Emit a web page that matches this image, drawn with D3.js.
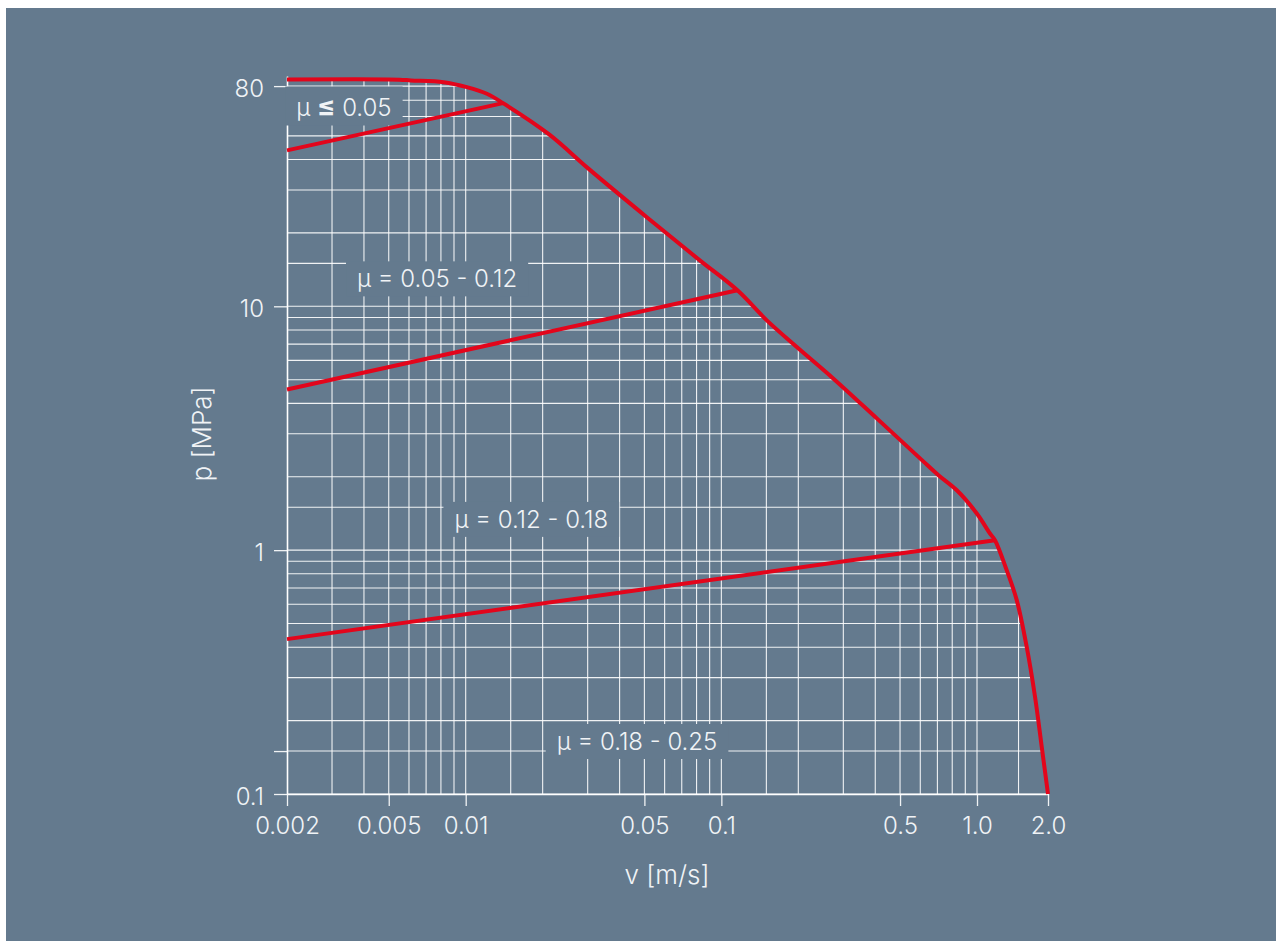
<!DOCTYPE html>
<html>
<head>
<meta charset="utf-8">
<script src="https://cdn.jsdelivr.net/npm/d3@7"></script>
<style>
  body { margin: 0; background: #fff; }
  svg { display: block; font-family: Inter, "Open Sans", sans-serif; }
</style>
</head>
<body>
<svg id="chart" width="1282" height="941"></svg>
<script>
// p-v limit curve, v in m/s, p in MPa
const limitV = [0.002, 0.0055, 0.0061, 0.0082, 0.0101, 0.0121, 0.0140, 0.0212, 0.0302, 0.0511, 0.0826,
    0.1156, 0.1506, 0.1973, 0.2745, 0.4056, 0.609, 0.7066, 0.834, 1.0, 1.135, 1.192, 1.336, 1.474,
    1.624, 1.762, 1.881, 2.0];
const limitP = [85.1, 85.0, 84.4, 83.0, 79.2, 74.4, 68.1, 50.7, 36.7, 23.2, 15.4,
    11.63, 8.76, 6.81, 5.05, 3.47, 2.34, 2.03, 1.76, 1.41, 1.17, 1.099, 0.828, 0.624,
    0.402, 0.2506, 0.1563, 0.1];

// boundaries between friction ranges
const lowFrictionV = [0.002, 0.0140];
const lowFrictionP = [43.6, 68.1];
const midFrictionV = [0.002, 0.1156];
const midFrictionP = [4.56, 11.63];
const highFrictionV = [0.002, 1.192];
const highFrictionP = [0.4317, 1.099];

// range labels, anchored at text centre / baseline in data units
const labelLeads = ["μ ", "μ = ", "μ = ", "μ = "];
const labelSigns = ["≤", "", "", ""];
const labelRanges = [" 0.05", "0.05 - 0.12", "0.12 - 0.18", "0.18 - 0.25"];
const labelV = [0.00334, 0.00773, 0.01806, 0.0468];
const labelP = [60.6, 11.96, 1.234, 0.1515];

const xTicks = [0.002, 0.005, 0.01, 0.05, 0.1, 0.5, 1, 2];
const xTickLabels = ["0.002", "0.005", "0.01", "0.05", "0.1", "0.5", "1.0", "2.0"];
const yTicks = [0.1, 0.15, 1, 10, 80];
const yTickLabels = ["0.1", "", "1", "10", "80"];

const gridV = [0.002, 0.003, 0.004, 0.005, 0.006, 0.007, 0.008, 0.009,
    0.01, 0.015, 0.02, 0.03, 0.04, 0.05, 0.06, 0.07, 0.08, 0.09,
    0.1, 0.15, 0.2, 0.3, 0.4, 0.5, 0.6, 0.7, 0.8, 0.9, 1.0, 1.5, 2.0];
const gridP = [0.1, 0.15, 0.2, 0.3, 0.4, 0.5, 0.6, 0.7, 0.8, 0.9,
    1, 1.5, 2, 3, 4, 5, 6, 7, 8, 9,
    10, 15, 20, 30, 40, 50, 60, 70, 80];

const bg = "#647a8e";
const red = "#e3051b";
const textColor = "#f0f3f6";
const gridColor = "rgba(255,255,255,0.9)";

const svg = d3.select("#chart");
const width = +svg.attr("width");
const height = +svg.attr("height");
const margin = { top: 76, right: 234, bottom: 147, left: 287 };
const innerWidth = width - margin.left - margin.right;
const innerHeight = height - margin.top - margin.bottom;

svg.append("rect")
    .attr("x", 6)
    .attr("y", 8)
    .attr("width", width - 12)
    .attr("height", height - 8)
    .attr("fill", bg);

// the source squeezes the last octave (1 -> 2) a little, hence the extra stop
const xScale = d3.scaleLog()
    .domain([0.002, 1, 2])
    .range([0, 690, innerWidth]);

const yScale = d3.scaleLog()
    .domain([0.1, 88])
    .range([innerHeight, 0]);

const g = svg.append("g")
    .attr("transform", `translate(${margin.left},${margin.top})`);

const boundary = d3.zip(limitV, limitP);
const smooth = d3.curveCatmullRom.alpha(0.5);

// grid only shows below the limit curve
const underCurve = d3.area()
    .x(d => xScale(d[0]))
    .y0(innerHeight)
    .y1(d => yScale(d[1]))
    .curve(smooth);

g.append("clipPath")
    .attr("id", "under-limit")
    .append("path")
    .attr("d", underCurve(boundary));

const grid = g.append("g")
    .attr("clip-path", "url(#under-limit)")
    .attr("stroke", gridColor)
    .attr("stroke-width", 1.1);

grid.selectAll(".vgrid")
    .data(gridV)
    .join("line")
    .attr("class", "vgrid")
    .attr("x1", d => xScale(d))
    .attr("x2", d => xScale(d))
    .attr("y1", 0)
    .attr("y2", innerHeight);

grid.selectAll(".hgrid")
    .data(gridP)
    .join("line")
    .attr("class", "hgrid")
    .attr("x1", 0)
    .attr("x2", innerWidth)
    .attr("y1", d => yScale(d))
    .attr("y2", d => yScale(d));

// axes
const xAxis = d3.axisBottom(xScale)
    .tickValues(xTicks)
    .tickFormat((d, i) => xTickLabels[i])
    .tickSize(12)
    .tickSizeOuter(0)
    .tickPadding(11);

const yAxis = d3.axisLeft(yScale)
    .tickValues(yTicks)
    .tickFormat((d, i) => yTickLabels[i])
    .tickSize(13)
    .tickSizeOuter(0)
    .tickPadding(10);

const gx = g.append("g")
    .attr("transform", `translate(0,${innerHeight})`)
    .call(xAxis);

const gy = g.append("g")
    .call(yAxis);

[gx, gy].forEach(ax => {
    ax.attr("font-family", null).attr("font-size", null);
    ax.select(".domain").attr("stroke", "#fff").attr("stroke-width", 1.6);
    ax.selectAll(".tick line").attr("stroke", gridColor).attr("stroke-width", 1.3);
    ax.selectAll(".tick text")
        .attr("fill", textColor)
        .style("font-size", "24px")
        .style("font-weight", 300);
});
gy.selectAll(".tick text").attr("dy", "0.42em");
gy.selectAll(".tick text").filter(function () { return this.textContent === ""; }).remove();

// labels with a background patch that hides the grid behind them
const labels = g.append("g");
labelRanges.forEach((t, i) => {
    const lg = labels.append("g");
    const txt = lg.append("text")
        .attr("x", xScale(labelV[i]))
        .attr("y", yScale(labelP[i]))
        .attr("text-anchor", "middle")
        .attr("fill", textColor)
        .style("font-size", "24px")
        .style("font-weight", 300);
    txt.append("tspan").text(labelLeads[i]);
    if (labelSigns[i]) {
        txt.append("tspan")
            .style("font-weight", 700)
            .style("font-size", "27px")
            .text(labelSigns[i]);
    }
    txt.append("tspan").text(t);
    const b = txt.node().getBBox();
    lg.insert("rect", "text")
        .attr("x", b.x - 11)
        .attr("y", b.y - 3)
        .attr("width", b.width + 22)
        .attr("height", b.height + 6)
        .attr("fill", bg);
});

// red lines
const lineGenerator = d3.line()
    .x(d => xScale(d[0]))
    .y(d => yScale(d[1]));

[[lowFrictionV, lowFrictionP], [midFrictionV, midFrictionP], [highFrictionV, highFrictionP]]
    .forEach(([vs, ps]) => {
        g.append("path")
            .attr("class", "line-path")
            .attr("d", lineGenerator(d3.zip(vs, ps)));
    });

g.append("path")
    .attr("class", "line-path")
    .attr("d", lineGenerator.curve(smooth)(boundary));

g.selectAll(".line-path")
    .style("fill", "none")
    .style("stroke", red)
    .style("stroke-width", 4)
    .style("stroke-linejoin", "round")
    .style("stroke-linecap", "butt");

// axis titles
g.append("text")
    .attr("x", 667 - margin.left)
    .attr("y", innerHeight + 90)
    .attr("text-anchor", "middle")
    .attr("fill", textColor)
    .style("font-size", "26px")
    .style("font-weight", 300)
    .text("v [m/s]");

g.append("text")
    .attr("transform", "rotate(-90)")
    .attr("x", -(434 - margin.top))
    .attr("y", -76)
    .attr("text-anchor", "middle")
    .attr("fill", textColor)
    .style("font-size", "26px")
    .style("font-weight", 300)
    .text("p [MPa]");
</script>
</body>
</html>
